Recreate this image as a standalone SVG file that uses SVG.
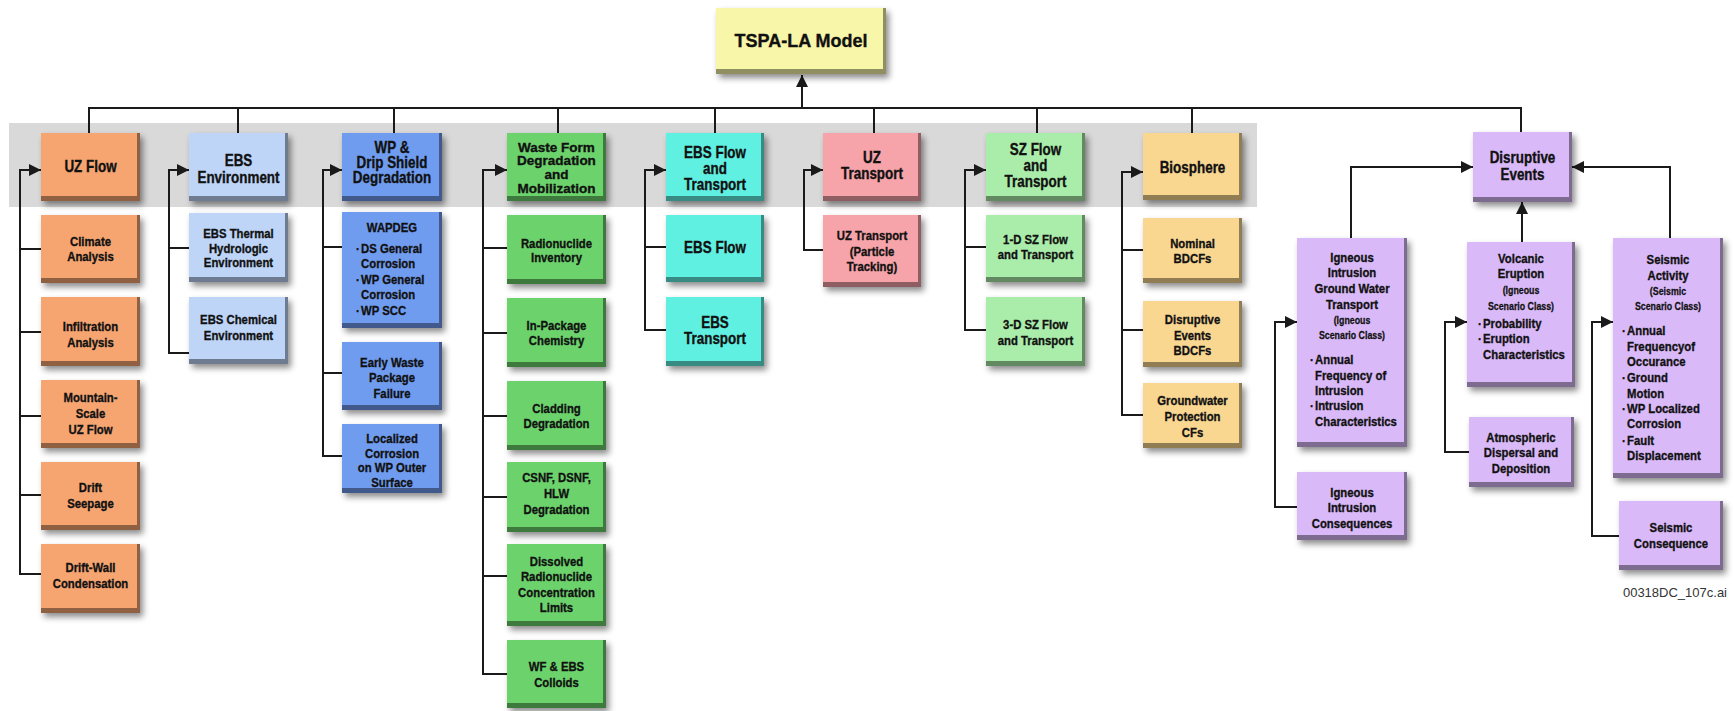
<svg xmlns="http://www.w3.org/2000/svg" width="1735" height="711" viewBox="0 0 1735 711">
  <defs>
    <filter id="shadow" x="-20%" y="-20%" width="150%" height="150%">
      <feDropShadow dx="3" dy="4" stdDeviation="3" flood-color="#000" flood-opacity="0.45"/>
    </filter>
    <marker id="arrow" viewBox="0 0 10 10" refX="10" refY="5" markerWidth="12" markerHeight="12" markerUnits="userSpaceOnUse" orient="auto">
      <path d="M0,0 L10,5 L0,10 z" fill="#1a1a1a"/>
    </marker>
  </defs>
  <style>
    .box { filter: url(#shadow); }
    .bev { fill: #000; fill-opacity: 0.42; }
    .ty { fill: #F8F6A8; }
    .or { fill: #F6A571; }
    .lb { fill: #BED5F8; }
    .bl { fill: #709CEF; }
    .gr { fill: #6CD36C; }
    .cy { fill: #60F0E2; }
    .pk { fill: #F6A3A9; }
    .lg { fill: #AAEDAA; }
    .ye { fill: #FAD791; }
    .pu { fill: #D9B9F8; }
    text { fill: #111; stroke: #111; stroke-width: 0.35; font-family: "Liberation Sans", Arial, sans-serif; font-weight: bold; text-anchor: middle; }
    /* condensed look: Liberation Sans squeezed horizontally about the text box */
    .t, .s, .sm { transform-box: fill-box; transform-origin: 50% 50%; transform: scaleX(0.84); }
    .t { font-size: 16px; }
    .s { font-size: 13.5px; }
    .sm { font-size: 10.5px; stroke-width: 0.25; }
    .lft { text-anchor: start; transform-origin: 0 50%; }
    .a18 { font-size: 18px; }
    .a13 { font-size: 13.5px; }
    .conn path { fill: none; stroke: #1a1a1a; stroke-width: 2; }
    .file { font-size: 13px; font-weight: normal; fill: #333; stroke: none; text-anchor: end; }
  </style>

  <rect id="band" x="9" y="123" width="1248" height="84" fill="#D9D9D9"/>

  <g id="connectors" class="conn">
    <!-- main bus feeding the top model -->
    <path d="M89 133V108H1521V132"/>
    <path d="M238 108V133M394 108V133M558 108V133M715 108V133M874 108V133M1037 108V133M1192 108V133"/>
    <path d="M802 108V75" marker-end="url(#arrow)"/>
    <!-- UZ Flow column -->
    <path d="M41 574H20V170H41" marker-end="url(#arrow)"/>
    <path d="M20 249H41M20 332H41M20 416H41M20 495H41"/>
    <!-- EBS Environment column -->
    <path d="M189 353H169V170H189" marker-end="url(#arrow)"/>
    <path d="M169 248H189"/>
    <!-- WP & Drip Shield column -->
    <path d="M342 456H323V170H342" marker-end="url(#arrow)"/>
    <path d="M323 247H342M323 373H342"/>
    <!-- Waste Form column -->
    <path d="M507 674H483V170H507" marker-end="url(#arrow)"/>
    <path d="M483 248H507M483 333H507M483 416H507M483 497H507M483 576H507"/>
    <!-- EBS Flow and Transport column -->
    <path d="M666 330H645V170H666" marker-end="url(#arrow)"/>
    <path d="M645 247H666"/>
    <!-- UZ Transport column -->
    <path d="M823 250H804V170H823" marker-end="url(#arrow)"/>
    <!-- SZ Flow and Transport column -->
    <path d="M986 330H965V170H986" marker-end="url(#arrow)"/>
    <path d="M965 247H986"/>
    <!-- Biosphere column -->
    <path d="M1143 415H1122V172H1143" marker-end="url(#arrow)"/>
    <path d="M1122 250H1143M1122 330H1143"/>
    <!-- Disruptive events branches -->
    <path d="M1351 238V167H1473" marker-end="url(#arrow)"/>
    <path d="M1670 238V167H1572" marker-end="url(#arrow)"/>
    <path d="M1522 242V202" marker-end="url(#arrow)"/>
    <path d="M1297 507H1275V322H1297" marker-end="url(#arrow)"/>
    <path d="M1469 452H1445V322H1467" marker-end="url(#arrow)"/>
    <path d="M1619 536H1592V322H1613" marker-end="url(#arrow)"/>
  </g>

  <!-- top model -->
  <g id="tspa-la-model">
    <rect class="box ty" x="716" y="8" width="170" height="66"/>
    <path class="bev" d="M716 69H883V8H886V74H716Z"/>
    <text class="a18" x="801" y="47">TSPA-LA Model</text>
  </g>

  <!-- UZ Flow -->
  <g id="uz-flow">
    <rect class="box or" x="41" y="133" width="99" height="68"/>
    <path class="bev" d="M41 196H137V133H140V201H41Z"/>
    <text class="t" x="90.5" y="172">UZ Flow</text>
  </g>
  <g id="climate-analysis">
    <rect class="box or" x="41" y="215" width="99" height="68"/>
    <path class="bev" d="M41 278H137V215H140V283H41Z"/>
    <text class="s"><tspan x="90.5" y="246">Climate</tspan><tspan x="90.5" y="261">Analysis</tspan></text>
  </g>
  <g id="infiltration-analysis">
    <rect class="box or" x="41" y="297" width="99" height="69"/>
    <path class="bev" d="M41 361H137V297H140V366H41Z"/>
    <text class="s"><tspan x="90.5" y="331">Infiltration</tspan><tspan x="90.5" y="347">Analysis</tspan></text>
  </g>
  <g id="mountain-scale-uz-flow">
    <rect class="box or" x="41" y="380" width="99" height="68"/>
    <path class="bev" d="M41 443H137V380H140V448H41Z"/>
    <text class="s"><tspan x="90.5" y="402">Mountain-</tspan><tspan x="90.5" y="418">Scale</tspan><tspan x="90.5" y="434">UZ Flow</tspan></text>
  </g>
  <g id="drift-seepage">
    <rect class="box or" x="41" y="462" width="99" height="68"/>
    <path class="bev" d="M41 525H137V462H140V530H41Z"/>
    <text class="s"><tspan x="90.5" y="492">Drift</tspan><tspan x="90.5" y="508">Seepage</tspan></text>
  </g>
  <g id="drift-wall-condensation">
    <rect class="box or" x="41" y="544" width="99" height="69"/>
    <path class="bev" d="M41 608H137V544H140V613H41Z"/>
    <text class="s"><tspan x="90.5" y="572">Drift-Wall</tspan><tspan x="90.5" y="588">Condensation</tspan></text>
  </g>

  <!-- EBS Environment -->
  <g id="ebs-environment">
    <rect class="box lb" x="189" y="133" width="99" height="68"/>
    <path class="bev" d="M189 196H285V133H288V201H189Z"/>
    <text class="t"><tspan x="238.5" y="166">EBS</tspan><tspan x="238.5" y="183">Environment</tspan></text>
  </g>
  <g id="ebs-thermal-hydrologic">
    <rect class="box lb" x="189" y="213" width="99" height="69"/>
    <path class="bev" d="M189 277H285V213H288V282H189Z"/>
    <text class="s"><tspan x="238.5" y="238">EBS Thermal</tspan><tspan x="238.5" y="253">Hydrologic</tspan><tspan x="238.5" y="267">Environment</tspan></text>
  </g>
  <g id="ebs-chemical">
    <rect class="box lb" x="189" y="297" width="99" height="67"/>
    <path class="bev" d="M189 359H285V297H288V364H189Z"/>
    <text class="s"><tspan x="238.5" y="324">EBS Chemical</tspan><tspan x="238.5" y="340">Environment</tspan></text>
  </g>

  <!-- WP & Drip Shield Degradation -->
  <g id="wp-drip-shield">
    <rect class="box bl" x="342" y="133" width="100" height="68"/>
    <path class="bev" d="M342 196H439V133H442V201H342Z"/>
    <text class="t"><tspan x="392" y="153">WP &amp;</tspan><tspan x="392" y="168">Drip Shield</tspan><tspan x="392" y="183">Degradation</tspan></text>
  </g>
  <g id="wapdeg">
    <rect class="box bl" x="342" y="212" width="100" height="116"/>
    <path class="bev" d="M342 323H439V212H442V328H342Z"/>
    <text class="s" x="392" y="232">WAPDEG</text>
    <text class="s lft"><tspan x="356" y="253">·</tspan><tspan x="362" y="253">DS General</tspan><tspan x="362" y="268">Corrosion</tspan><tspan x="356" y="284">·</tspan><tspan x="362" y="284">WP General</tspan><tspan x="362" y="299">Corrosion</tspan><tspan x="356" y="315">·</tspan><tspan x="362" y="315">WP SCC</tspan></text>
  </g>
  <g id="early-wp-failure">
    <rect class="box bl" x="342" y="342" width="100" height="68"/>
    <path class="bev" d="M342 405H439V342H442V410H342Z"/>
    <text class="s"><tspan x="392" y="367">Early Waste</tspan><tspan x="392" y="382">Package</tspan><tspan x="392" y="398">Failure</tspan></text>
  </g>
  <g id="localized-corrosion">
    <rect class="box bl" x="342" y="424" width="100" height="69"/>
    <path class="bev" d="M342 488H439V424H442V493H342Z"/>
    <text class="s"><tspan x="392" y="443">Localized</tspan><tspan x="392" y="458">Corrosion</tspan><tspan x="392" y="472">on WP Outer</tspan><tspan x="392" y="487">Surface</tspan></text>
  </g>

  <!-- Waste Form Degradation and Mobilization -->
  <g id="waste-form">
    <rect class="box gr" x="507" y="133" width="99" height="68"/>
    <path class="bev" d="M507 196H603V133H606V201H507Z"/>
    <text class="a13"><tspan x="556.5" y="152">Waste Form</tspan><tspan x="556.5" y="165">Degradation</tspan><tspan x="556.5" y="179">and</tspan><tspan x="556.5" y="193">Mobilization</tspan></text>
  </g>
  <g id="radionuclide-inventory">
    <rect class="box gr" x="507" y="215" width="99" height="69"/>
    <path class="bev" d="M507 279H603V215H606V284H507Z"/>
    <text class="s"><tspan x="556.5" y="248">Radionuclide</tspan><tspan x="556.5" y="262">Inventory</tspan></text>
  </g>
  <g id="in-package-chemistry">
    <rect class="box gr" x="507" y="298" width="99" height="69"/>
    <path class="bev" d="M507 362H603V298H606V367H507Z"/>
    <text class="s"><tspan x="556.5" y="330">In-Package</tspan><tspan x="556.5" y="345">Chemistry</tspan></text>
  </g>
  <g id="cladding-degradation">
    <rect class="box gr" x="507" y="381" width="99" height="69"/>
    <path class="bev" d="M507 445H603V381H606V450H507Z"/>
    <text class="s"><tspan x="556.5" y="413">Cladding</tspan><tspan x="556.5" y="428">Degradation</tspan></text>
  </g>
  <g id="csnf-dsnf-hlw">
    <rect class="box gr" x="507" y="462" width="99" height="70"/>
    <path class="bev" d="M507 527H603V462H606V532H507Z"/>
    <text class="s"><tspan x="556.5" y="482">CSNF, DSNF,</tspan><tspan x="556.5" y="498">HLW</tspan><tspan x="556.5" y="514">Degradation</tspan></text>
  </g>
  <g id="dissolved-concentration">
    <rect class="box gr" x="507" y="544" width="99" height="82"/>
    <path class="bev" d="M507 621H603V544H606V626H507Z"/>
    <text class="s"><tspan x="556.5" y="566">Dissolved</tspan><tspan x="556.5" y="581">Radionuclide</tspan><tspan x="556.5" y="597">Concentration</tspan><tspan x="556.5" y="612">Limits</tspan></text>
  </g>
  <g id="wf-ebs-colloids">
    <rect class="box gr" x="507" y="640" width="99" height="68"/>
    <path class="bev" d="M507 703H603V640H606V708H507Z"/>
    <text class="s"><tspan x="556.5" y="671">WF &amp; EBS</tspan><tspan x="556.5" y="687">Colloids</tspan></text>
  </g>

  <!-- EBS Flow and Transport -->
  <g id="ebs-flow-transport">
    <rect class="box cy" x="666" y="133" width="98" height="68"/>
    <path class="bev" d="M666 196H761V133H764V201H666Z"/>
    <text class="t"><tspan x="715" y="158">EBS Flow</tspan><tspan x="715" y="174">and</tspan><tspan x="715" y="190">Transport</tspan></text>
  </g>
  <g id="ebs-flow">
    <rect class="box cy" x="666" y="215" width="98" height="67"/>
    <path class="bev" d="M666 277H761V215H764V282H666Z"/>
    <text class="t" x="715" y="253">EBS Flow</text>
  </g>
  <g id="ebs-transport">
    <rect class="box cy" x="666" y="297" width="98" height="69"/>
    <path class="bev" d="M666 361H761V297H764V366H666Z"/>
    <text class="t"><tspan x="715" y="328">EBS</tspan><tspan x="715" y="344">Transport</tspan></text>
  </g>

  <!-- UZ Transport -->
  <g id="uz-transport">
    <rect class="box pk" x="823" y="133" width="98" height="68"/>
    <path class="bev" d="M823 196H918V133H921V201H823Z"/>
    <text class="t"><tspan x="872" y="163">UZ</tspan><tspan x="872" y="179">Transport</tspan></text>
  </g>
  <g id="uz-particle-tracking">
    <rect class="box pk" x="823" y="215" width="98" height="72"/>
    <path class="bev" d="M823 282H918V215H921V287H823Z"/>
    <text class="s"><tspan x="872" y="240">UZ Transport</tspan><tspan x="872" y="256">(Particle</tspan><tspan x="872" y="271">Tracking)</tspan></text>
  </g>

  <!-- SZ Flow and Transport -->
  <g id="sz-flow-transport">
    <rect class="box lg" x="986" y="133" width="99" height="68"/>
    <path class="bev" d="M986 196H1082V133H1085V201H986Z"/>
    <text class="t"><tspan x="1035.5" y="155">SZ Flow</tspan><tspan x="1035.5" y="171">and</tspan><tspan x="1035.5" y="187">Transport</tspan></text>
  </g>
  <g id="sz-1d">
    <rect class="box lg" x="986" y="215" width="99" height="67"/>
    <path class="bev" d="M986 277H1082V215H1085V282H986Z"/>
    <text class="s"><tspan x="1035.5" y="244">1-D SZ Flow</tspan><tspan x="1035.5" y="259">and Transport</tspan></text>
  </g>
  <g id="sz-3d">
    <rect class="box lg" x="986" y="297" width="99" height="69"/>
    <path class="bev" d="M986 361H1082V297H1085V366H986Z"/>
    <text class="s"><tspan x="1035.5" y="329">3-D SZ Flow</tspan><tspan x="1035.5" y="345">and Transport</tspan></text>
  </g>

  <!-- Biosphere -->
  <g id="biosphere">
    <rect class="box ye" x="1143" y="133" width="99" height="67"/>
    <path class="bev" d="M1143 195H1239V133H1242V200H1143Z"/>
    <text class="t" x="1192.5" y="173">Biosphere</text>
  </g>
  <g id="nominal-bdcfs">
    <rect class="box ye" x="1143" y="218" width="99" height="65"/>
    <path class="bev" d="M1143 278H1239V218H1242V283H1143Z"/>
    <text class="s"><tspan x="1192.5" y="248">Nominal</tspan><tspan x="1192.5" y="263">BDCFs</tspan></text>
  </g>
  <g id="disruptive-bdcfs">
    <rect class="box ye" x="1143" y="301" width="99" height="66"/>
    <path class="bev" d="M1143 362H1239V301H1242V367H1143Z"/>
    <text class="s"><tspan x="1192.5" y="324">Disruptive</tspan><tspan x="1192.5" y="340">Events</tspan><tspan x="1192.5" y="355">BDCFs</tspan></text>
  </g>
  <g id="groundwater-cfs">
    <rect class="box ye" x="1143" y="383" width="99" height="65"/>
    <path class="bev" d="M1143 443H1239V383H1242V448H1143Z"/>
    <text class="s"><tspan x="1192.5" y="405">Groundwater</tspan><tspan x="1192.5" y="421">Protection</tspan><tspan x="1192.5" y="437">CFs</tspan></text>
  </g>

  <!-- Disruptive Events -->
  <g id="disruptive-events">
    <rect class="box pu" x="1473" y="132" width="99" height="70"/>
    <path class="bev" d="M1473 197H1569V132H1572V202H1473Z"/>
    <text class="t"><tspan x="1522.5" y="163">Disruptive</tspan><tspan x="1522.5" y="180">Events</tspan></text>
  </g>
  <g id="igneous-gw-transport">
    <rect class="box pu" x="1297" y="238" width="110" height="209"/>
    <path class="bev" d="M1297 442H1404V238H1407V447H1297Z"/>
    <text class="s"><tspan x="1352" y="262">Igneous</tspan><tspan x="1352" y="277">Intrusion</tspan><tspan x="1352" y="293">Ground Water</tspan><tspan x="1352" y="309">Transport</tspan></text>
    <text class="sm"><tspan x="1352" y="324">(Igneous</tspan><tspan x="1352" y="339">Scenario Class)</tspan></text>
    <text class="s lft"><tspan x="1310" y="364">·</tspan><tspan x="1316" y="364">Annual</tspan><tspan x="1316" y="380">Frequency of</tspan><tspan x="1316" y="395">Intrusion</tspan><tspan x="1310" y="410">·</tspan><tspan x="1316" y="410">Intrusion</tspan><tspan x="1316" y="426">Characteristics</tspan></text>
  </g>
  <g id="igneous-consequences">
    <rect class="box pu" x="1297" y="472" width="110" height="68"/>
    <path class="bev" d="M1297 535H1404V472H1407V540H1297Z"/>
    <text class="s"><tspan x="1352" y="497">Igneous</tspan><tspan x="1352" y="512">Intrusion</tspan><tspan x="1352" y="528">Consequences</tspan></text>
  </g>
  <g id="volcanic-eruption">
    <rect class="box pu" x="1467" y="242" width="108" height="145"/>
    <path class="bev" d="M1467 382H1572V242H1575V387H1467Z"/>
    <text class="s"><tspan x="1521" y="263">Volcanic</tspan><tspan x="1521" y="278">Eruption</tspan></text>
    <text class="sm"><tspan x="1521" y="294">(Igneous</tspan><tspan x="1521" y="310">Scenario Class)</tspan></text>
    <text class="s lft"><tspan x="1478" y="328">·</tspan><tspan x="1484" y="328">Probability</tspan><tspan x="1478" y="343">·</tspan><tspan x="1484" y="343">Eruption</tspan><tspan x="1484" y="359">Characteristics</tspan></text>
  </g>
  <g id="atmospheric-dispersal">
    <rect class="box pu" x="1469" y="417" width="105" height="70"/>
    <path class="bev" d="M1469 482H1571V417H1574V487H1469Z"/>
    <text class="s"><tspan x="1521" y="442">Atmospheric</tspan><tspan x="1521" y="457">Dispersal and</tspan><tspan x="1521" y="473">Deposition</tspan></text>
  </g>
  <g id="seismic-activity">
    <rect class="box pu" x="1613" y="238" width="110" height="240"/>
    <path class="bev" d="M1613 473H1720V238H1723V478H1613Z"/>
    <text class="s"><tspan x="1668" y="264">Seismic</tspan><tspan x="1668" y="280">Activity</tspan></text>
    <text class="sm"><tspan x="1668" y="295">(Seismic</tspan><tspan x="1668" y="310">Scenario Class)</tspan></text>
    <text class="s lft"><tspan x="1622" y="335">·</tspan><tspan x="1628" y="335">Annual</tspan><tspan x="1628" y="351">Frequencyof</tspan><tspan x="1628" y="366">Occurance</tspan><tspan x="1622" y="382">·</tspan><tspan x="1628" y="382">Ground</tspan><tspan x="1628" y="398">Motion</tspan><tspan x="1622" y="413">·</tspan><tspan x="1628" y="413">WP Localized</tspan><tspan x="1628" y="428">Corrosion</tspan><tspan x="1622" y="445">·</tspan><tspan x="1628" y="445">Fault</tspan><tspan x="1628" y="460">Displacement</tspan></text>
  </g>
  <g id="seismic-consequence">
    <rect class="box pu" x="1619" y="501" width="104" height="69"/>
    <path class="bev" d="M1619 565H1720V501H1723V570H1619Z"/>
    <text class="s"><tspan x="1671" y="532">Seismic</tspan><tspan x="1671" y="548">Consequence</tspan></text>
  </g>

  <text class="file" x="1727" y="597">00318DC_107c.ai</text>
</svg>
